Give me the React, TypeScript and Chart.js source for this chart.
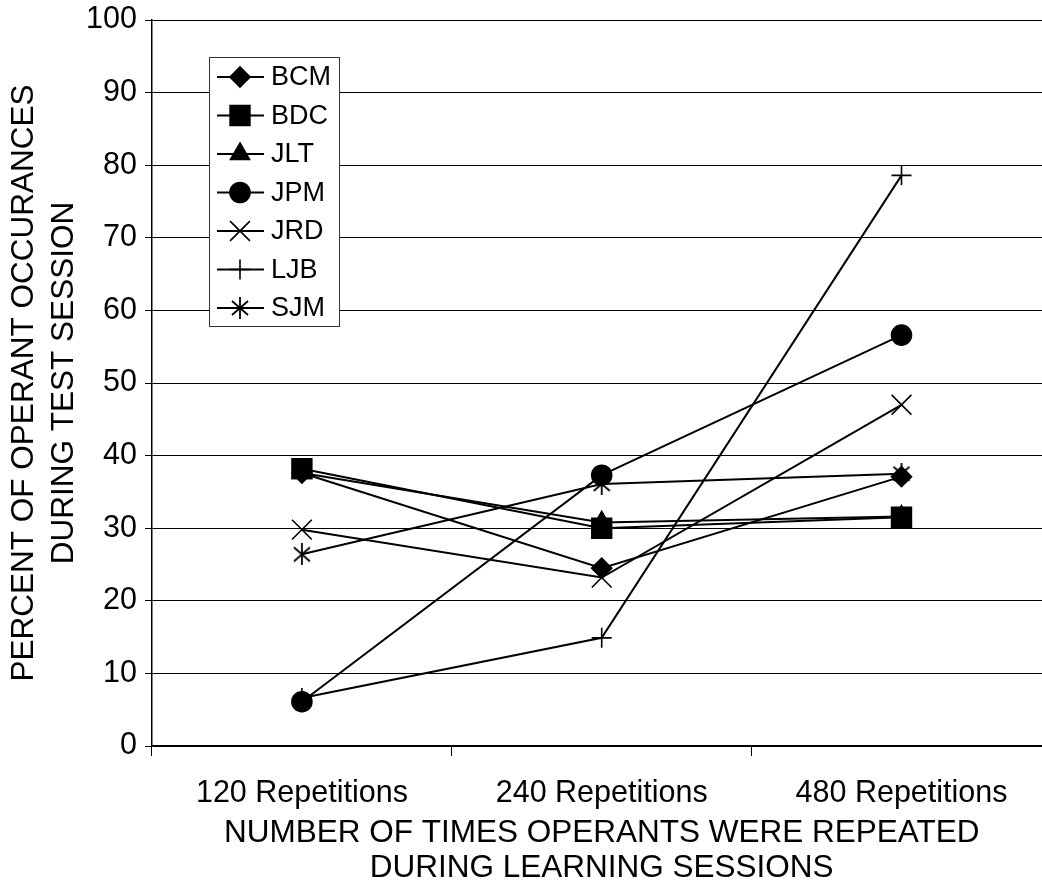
import React, { useEffect, useRef } from "react";
import { Chart, registerables } from "chart.js";
import { drawPoint } from "chart.js/helpers";

Chart.register(...registerables);

const categories = ["120 Repetitions", "240 Repetitions", "480 Repetitions"];
const seriesNames = ["BCM", "BDC", "JLT", "JPM", "JRD", "LJB", "SJM"];
const BCM = [37.6, 24.5, 37.1];
const BDC = [38.2, 30.0, 31.5];
const JLT = [37.6, 30.8, 31.6];
const JPM = [6.1, 37.3, 56.6];
const JRD = [29.8, 23.2, 47.0];
const LJB = [6.6, 14.9, 78.6];
const SJM = [26.4, 36.1, 37.5];
const yTitle = ["PERCENT OF OPERANT OCCURANCES", "DURING TEST SESSION"];
const xTitle = ["NUMBER OF TIMES OPERANTS WERE REPEATED", "DURING LEARNING SESSIONS"];

const FONT = '"Liberation Sans", Arial, sans-serif';

function makeStar(): HTMLCanvasElement {
  const c = document.createElement("canvas");
  c.width = 22;
  c.height = 22;
  const g = c.getContext("2d")!;
  g.strokeStyle = "#000";
  g.lineWidth = 1.8;
  g.beginPath();
  g.moveTo(3, 4); g.lineTo(19, 18);
  g.moveTo(19, 4); g.lineTo(3, 18);
  g.moveTo(11, 0); g.lineTo(11, 22);
  g.stroke();
  return c;
}

export default function App() {
  const ref = useRef<HTMLCanvasElement | null>(null);
  useEffect(() => {
    const canvas = ref.current!;
    const star = makeStar();
    const styles: any[] = [
      { s: "rectRot", r: 10 },
      { s: "rect", r: 14 },
      { s: "triangle", r: 11 },
      { s: "circle", r: 10 },
      { s: "crossRot", r: 14 },
      { s: "cross", r: 10 },
      { s: star, r: 10 },
    ];
    const values = [BCM, BDC, JLT, JPM, JRD, LJB, SJM];
    const datasets = seriesNames.map((name, i) => ({
      label: name,
      data: values[i],
      borderColor: "#000",
      backgroundColor: "#000",
      borderWidth: 2,
      pointStyle: styles[i].s,
      pointRadius: styles[i].r,
      pointBorderWidth: 1.6,
      pointBorderColor: "#000",
      pointBackgroundColor: "#000",
      tension: 0,
      fill: false,
    }));

    const legendPlugin = {
      id: "boxLegend",
      afterDraw(chart: any) {
        const ctx = chart.ctx;
        const ca = chart.chartArea;
        const bx = ca.left + 57;
        const by = ca.top + 37;
        const bw = 130;
        const bh = 269;
        ctx.save();
        ctx.fillStyle = "#fff";
        ctx.fillRect(bx, by, bw, bh);
        ctx.strokeStyle = "#333";
        ctx.lineWidth = 1;
        ctx.strokeRect(bx + 0.5, by + 0.5, bw, bh);
        chart.data.datasets.forEach((ds: any, i: number) => {
          const y = by + 20 + i * 38.5;
          ctx.strokeStyle = "#000";
          ctx.lineWidth = 2;
          ctx.beginPath();
          ctx.moveTo(bx + 8, y);
          ctx.lineTo(bx + 55, y);
          ctx.stroke();
          ctx.fillStyle = "#000";
          ctx.strokeStyle = "#000";
          ctx.lineWidth = 1.6;
          drawPoint(ctx, { pointStyle: ds.pointStyle, radius: ds.pointRadius, rotation: 0, borderWidth: 1.6 }, bx + 31, y);
          ctx.fillStyle = "#000";
          ctx.font = `27px ${FONT}`;
          ctx.textAlign = "left";
          ctx.textBaseline = "middle";
          ctx.fillText(ds.label, bx + 62, y + 1);
        });
        ctx.restore();
      },
    };

    const chart = new Chart(canvas, {
      type: "line",
      data: { labels: categories, datasets },
      options: {
        responsive: false,
        animation: false,
        devicePixelRatio: 1,
        layout: { padding: { top: 20, right: 1, left: 0, bottom: 0 } },
        plugins: { legend: { display: false }, tooltip: { enabled: false } },
        scales: {
          x: {
            type: "category",
            offset: true,
            grid: { offset: true, drawOnChartArea: false, drawTicks: true, tickLength: 10, color: "#000", lineWidth: 1 },
            border: { display: true, color: "#000", width: 1.5 },
            ticks: { color: "#000", font: { family: FONT, size: 30.5 }, padding: 19, maxRotation: 0, autoSkip: false },
            title: { display: true, text: xTitle, color: "#000", font: { family: FONT, size: 31.5, lineHeight: 1.12 }, padding: { top: 0, bottom: 0 } },
            afterFit: (s: any) => { s.height = 140; s.paddingLeft = 0; s.paddingRight = 0; },
          },
          y: {
            min: 0,
            max: 100,
            grid: { color: "#000", lineWidth: 1, drawTicks: true, tickLength: 7 },
            border: { display: true, color: "#000", width: 1.5 },
            ticks: { stepSize: 10, color: "#000", font: { family: FONT, size: 30.5 }, padding: 8 },
            title: { display: true, text: yTitle, color: "#000", font: { family: FONT, size: 31.5, lineHeight: 1.27 }, padding: { top: 4, bottom: 0 } },
            afterFit: (s: any) => { s.width = 152; s.paddingTop = 0; s.paddingBottom = 0; },
          },
        },
      },
      plugins: [legendPlugin],
    } as any);
    return () => chart.destroy();
  }, []);

  return (
    <div style={{ position: "fixed", left: 0, top: 0, width: 1042, height: 886, overflow: "hidden", background: "#fff" }}>
      <canvas ref={ref} width={1067} height={886} style={{ width: "1067px", height: "886px", display: "block" }} />
    </div>
  );
}
